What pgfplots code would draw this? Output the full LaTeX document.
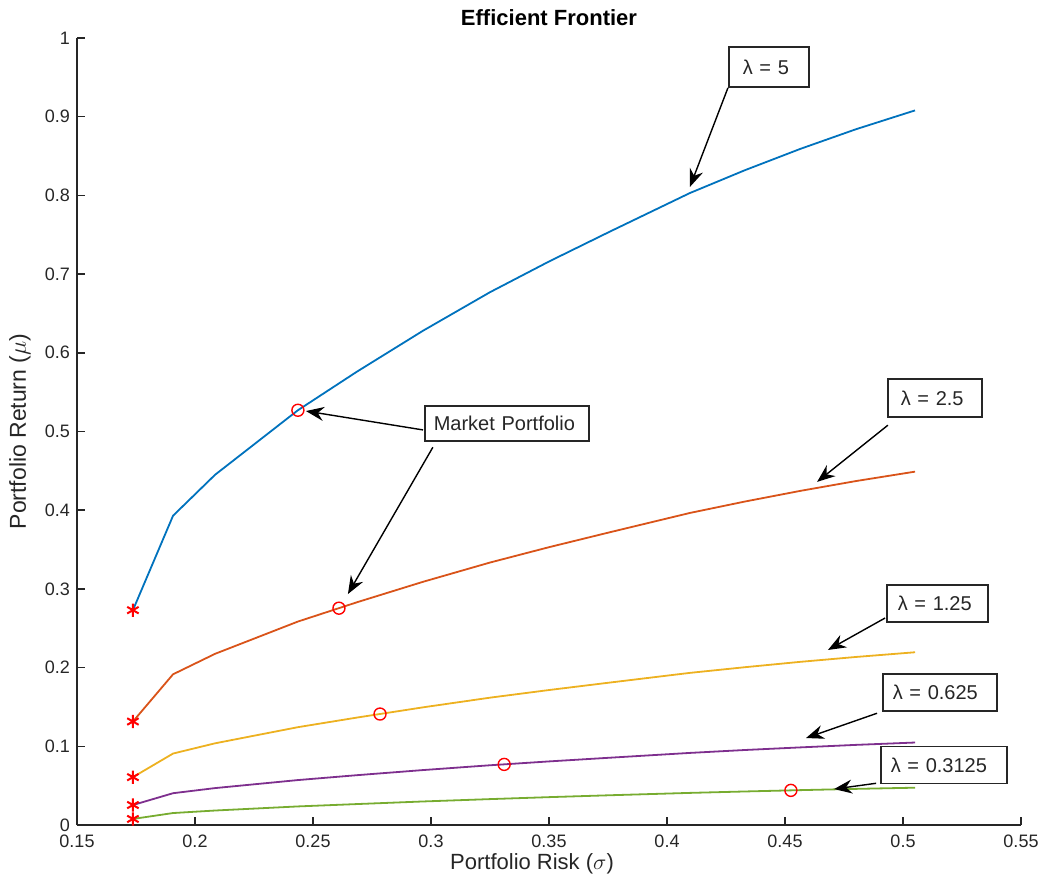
\documentclass[border=0pt]{standalone}
\usepackage{fontspec}
\setmainfont{Liberation Sans}
\usepackage{pgfplots}
\pgfplotsset{compat=1.18}
\usetikzlibrary{arrows.meta}
\definecolor{mblue}{rgb}{0,0.447,0.741}
\definecolor{morange}{rgb}{0.85,0.325,0.098}
\definecolor{myellow}{rgb}{0.929,0.694,0.125}
\definecolor{mpurple}{rgb}{0.494,0.184,0.556}
\definecolor{mgreen}{rgb}{0.466,0.674,0.188}
\definecolor{axgray}{rgb}{0.15,0.15,0.15}
\tikzset{
  ann/.style={draw=axgray, line width=0.8pt, fill=white, anchor=west, align=left,
    font=\fontsize{10}{11}\selectfont, inner ysep=0pt, text=axgray},
  arr/.style={line width=0.7pt, -{Stealth[length=9pt,width=7pt,inset=3pt]}}
}
\begin{document}
\begin{tikzpicture}
\begin{axis}[
  scale only axis, width=472pt, height=393.5pt,
  xmin=0.15, xmax=0.55, ymin=0, ymax=1,
  axis x line*=bottom, axis y line*=left,
  xtick={0.15,0.2,0.25,0.3,0.35,0.4,0.45,0.5,0.55},
  xticklabels={0.15,0.2,0.25,0.3,0.35,0.4,0.45,0.5,0.55},
  ytick={0,0.1,0.2,0.3,0.4,0.5,0.6,0.7,0.8,0.9,1},
  yticklabels={0,0.1,0.2,0.3,0.4,0.5,0.6,0.7,0.8,0.9,1},
  tick align=inside, major tick length=4pt,
  tick style={color=axgray, line width=0.8pt},
  axis line style={color=axgray, line width=0.8pt},
  ticklabel style={color=axgray, font=\fontsize{9}{10}\selectfont},
  xticklabel style={yshift=-1.5pt},
  xlabel={Portfolio Risk ($\sigma$)},
  ylabel={Portfolio Return ($\mu$)},
  xlabel style={at={(axis description cs:0.482,-0.049)}, anchor=center, color=axgray, font=\fontsize{11}{12}\selectfont},
  ylabel style={at={(axis description cs:-0.0604,0.5)}, anchor=center, color=axgray, font=\fontsize{11.5}{13}\selectfont},
  title={Efficient Frontier},
  every axis title shift=0pt,
  title style={at={(axis description cs:0.5,1.0254)}, anchor=center, font=\bfseries\fontsize{11}{12}\selectfont},
  clip=false,
]
% frontiers
\addplot[mblue, line width=0.9pt] coordinates {
(0.1737,0.273) (0.1907,0.393) (0.2085,0.445) (0.2436,0.527) (0.2686,0.576)
(0.2966,0.628) (0.3250,0.677) (0.3500,0.716) (0.3758,0.754) (0.4097,0.803)
(0.4330,0.832) (0.4564,0.859) (0.4800,0.884) (0.5051,0.908)};
\addplot[morange, line width=0.9pt] coordinates {
(0.1737,0.1315) (0.1907,0.1915) (0.2085,0.2175) (0.2436,0.2585) (0.2686,0.2830)
(0.2966,0.3090) (0.3250,0.3335) (0.3500,0.3530) (0.3758,0.3720) (0.4097,0.3965)
(0.4330,0.4110) (0.4564,0.4245) (0.4800,0.4370) (0.5051,0.4490)};
\addplot[myellow, line width=0.9pt] coordinates {
(0.1737,0.0608) (0.1907,0.0908) (0.2085,0.1038) (0.2436,0.1243) (0.2686,0.1365)
(0.2966,0.1495) (0.3250,0.1618) (0.3500,0.1715) (0.3758,0.1810) (0.4097,0.1933)
(0.4330,0.2005) (0.4564,0.2073) (0.4800,0.2135) (0.5051,0.2195)};
\addplot[mpurple, line width=0.9pt] coordinates {
(0.1737,0.0254) (0.1907,0.0404) (0.2085,0.0469) (0.2436,0.0571) (0.2686,0.0633)
(0.2966,0.0698) (0.3250,0.0759) (0.3500,0.0808) (0.3758,0.0855) (0.4097,0.0916)
(0.4330,0.0953) (0.4564,0.0986) (0.4800,0.1018) (0.5051,0.1048)};
\addplot[mgreen, line width=0.9pt] coordinates {
(0.1737,0.0077) (0.1907,0.0152) (0.2085,0.0184) (0.2436,0.0236) (0.2686,0.0266)
(0.2966,0.0299) (0.3250,0.0329) (0.3500,0.0354) (0.3758,0.0378) (0.4097,0.0408)
(0.4330,0.0426) (0.4564,0.0443) (0.4800,0.0459) (0.5051,0.0474)};
% minimum variance points
\addplot[only marks, mark=asterisk, red, mark size=3.3pt, mark options={line width=1pt}] coordinates {
(0.1737,0.273) (0.1737,0.1315) (0.1737,0.0608) (0.1737,0.0254) (0.1737,0.0077)};
% market portfolios
\addplot[only marks, mark=o, red, mark size=3pt, mark options={line width=0.7pt}] coordinates {
(0.2436,0.527) (0.2610,0.2755) (0.2784,0.141) (0.3310,0.077) (0.4525,0.044)};
% annotations
\draw[arr] (axis cs:0.4258,0.9365) -- (axis cs:0.4097,0.8107);
\draw[arr] (axis cs:0.2966,0.502) -- (axis cs:0.2470,0.526);
\draw[arr] (axis cs:0.3008,0.480) -- (axis cs:0.2648,0.2935);
\draw[arr] (axis cs:0.4936,0.508) -- (axis cs:0.4636,0.436);
\draw[arr] (axis cs:0.4924,0.263) -- (axis cs:0.4682,0.2224);
\draw[arr] (axis cs:0.4890,0.142) -- (axis cs:0.4589,0.1105);
\draw[arr] (axis cs:0.4886,0.053) -- (axis cs:0.4708,0.0457);
\node[ann, minimum height=20pt, text width=26pt, inner xsep=7pt] at (axis cs:0.42585,0.9632) {λ = 5};
\node[ann, minimum height=17.5pt, text width=73pt, inner xsep=4.5pt] at (axis cs:0.29703,0.5102) {Market Portfolio};
\node[ann, minimum height=19pt, text width=34pt, inner xsep=6.5pt] at (axis cs:0.49322,0.5426) {λ = 2.5};
\node[ann, minimum height=18.5pt, text width=39.5pt, inner xsep=5.5pt] at (axis cs:0.49280,0.2815) {λ = 1.25};
\node[ann, minimum height=18.5pt, text width=47pt, inner xsep=5pt] at (axis cs:0.49110,0.1684) {λ = 0.625};
\node[ann, minimum height=18.5pt, text width=53pt, inner xsep=5pt] at (axis cs:0.49025,0.0762) {λ = 0.3125};
\end{axis}
\pgfresetboundingbox
\path ([shift={(-38.5pt,-29.5pt)}]current axis.south west) rectangle ([shift={(11.5pt,19pt)}]current axis.north east);
\end{tikzpicture}
\end{document}
